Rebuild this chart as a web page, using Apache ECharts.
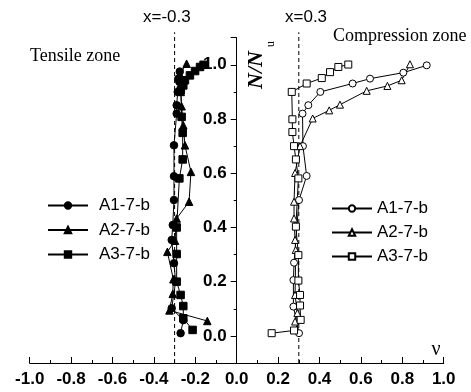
<!DOCTYPE html>
<html><head><meta charset="utf-8">
<script src="https://cdn.jsdelivr.net/npm/echarts@6/dist/echarts.min.js"></script>
<style>html,body{margin:0;padding:0;background:#fff}#c{width:471px;height:392px}</style>
</head><body><div id="c"></div>
<script>
// Tensile zone (filled markers)
const tensileA1 = [[-0.271,0.010],[-0.258,0.058],[-0.314,0.102],[-0.295,0.200],[-0.303,0.268],[-0.314,0.354],[-0.309,0.409],[-0.303,0.501],[-0.303,0.589],[-0.303,0.703],[-0.290,0.820],[-0.290,0.851],[-0.285,0.900],[-0.277,0.937],[-0.282,0.949],[-0.275,0.975]];
const tensileA2 = [[-0.142,0.055],[-0.325,0.094],[-0.309,0.155],[-0.306,0.209],[-0.335,0.310],[-0.298,0.351],[-0.290,0.433],[-0.230,0.495],[-0.221,0.605],[-0.250,0.703],[-0.258,0.777],[-0.266,0.847],[-0.270,0.900],[-0.274,0.965],[-0.242,1.004]];
const tensileA3 = [[-0.213,0.022],[-0.258,0.065],[-0.258,0.110],[-0.271,0.151],[-0.290,0.200],[-0.290,0.302],[-0.290,0.400],[-0.277,0.581],[-0.261,0.651],[-0.261,0.749],[-0.266,0.808],[-0.270,0.906],[-0.258,0.924],[-0.250,0.943],[-0.226,0.961],[-0.201,0.977],[-0.177,0.992],[-0.160,1.000]];
// Compression zone (hollow markers)
const compA1 = [[0.301,0.010],[0.274,0.108],[0.274,0.206],[0.277,0.270],[0.301,0.501],[0.338,0.590],[0.320,0.700],[0.318,0.820],[0.346,0.851],[0.404,0.900],[0.560,0.931],[0.644,0.949],[0.805,0.971],[0.918,0.998]];
const compA2 = [[0.282,0.053],[0.293,0.084],[0.282,0.151],[0.285,0.317],[0.282,0.354],[0.277,0.433],[0.277,0.495],[0.282,0.601],[0.306,0.700],[0.367,0.802],[0.447,0.832],[0.499,0.853],[0.628,0.904],[0.728,0.922],[0.797,0.943],[0.837,1.002]];
const compA3 = [[0.169,0.010],[0.277,0.020],[0.309,0.059],[0.306,0.112],[0.306,0.151],[0.298,0.204],[0.298,0.298],[0.286,0.403],[0.298,0.581],[0.286,0.651],[0.277,0.700],[0.269,0.752],[0.269,0.799],[0.266,0.900],[0.338,0.931],[0.411,0.951],[0.451,0.973],[0.491,0.992],[0.539,1.001]];
// reference lines x = -0.3 and x = 0.3
const refLeft = [[-0.3,-0.1],[-0.3,1.12]];
const refRight = [[0.3,-0.1],[0.3,1.12]];
const seriesNames = ['A1-7-b','A2-7-b','A3-7-b'];

const chart = echarts.init(document.getElementById('c'), null, {renderer:'canvas'});
const lineStyle = {color:'#000', width:1};
function filled(name, data, sym){
  return {type:'line', name:name, data:data, symbol:sym, symbolSize:7.5,
    itemStyle:{color:'#000', borderColor:'#000', borderWidth:1}, lineStyle:lineStyle};
}
function hollow(name, data, sym){
  return {type:'line', name:name + ' ', data:data, symbol:sym, symbolSize:7,
    itemStyle:{color:'#fff', borderColor:'#000', borderWidth:1}, lineStyle:lineStyle};
}
function dashed(data){
  return {type:'line', data:data, symbol:'none', clip:false, silent:true,
    lineStyle:{color:'#000', width:1, type:[4,3]}};
}
const gridLeft = 29.7, gridRight = 27.3;
const plotW = 471 - gridLeft - gridRight;
const option = {
  animation:false,
  backgroundColor:'#fff',
  grid:{left:gridLeft, right:gridRight, top:37.7, bottom:29},
  xAxis:{type:'value', min:-1, max:1, interval:0.2,
    axisLine:{onZero:false, lineStyle:{color:'#000', width:1}},
    axisTick:{inside:true, length:6, lineStyle:{color:'#000'}},
    minorTick:{show:true, splitNumber:2, length:3, lineStyle:{color:'#000'}},
    splitLine:{show:false},
    axisLabel:{color:'#000', fontFamily:'Liberation Sans, Arial', fontWeight:'bold', fontSize:17, margin:8,
      formatter:v=>v.toFixed(1)}
  },
  yAxis:{type:'value', min:-0.1, max:1.1, splitNumber:6, position:'left', offset:-plotW/2,
    axisLine:{onZero:false, lineStyle:{color:'#000', width:1}},
    axisTick:{length:6, lineStyle:{color:'#000'}},
    minorTick:{show:true, splitNumber:2, length:3, lineStyle:{color:'#000'}},
    splitLine:{show:false},
    axisLabel:{color:'#000', fontFamily:'Liberation Sans, Arial', fontWeight:'bold', fontSize:17, margin:10,
      showMinLabel:false, showMaxLabel:false,
      formatter:v=>{const r=Math.round(v*10); return (r%2===0 && r>=0 && r<=10)? v.toFixed(1):'';}}
  },
  legend:[
    {data:seriesNames, orient:'vertical', left:42, top:192, itemWidth:40, itemHeight:8, itemGap:7.5,
      textStyle:{color:'#000', fontFamily:'Liberation Sans', fontSize:17, padding:[0,0,0,6]}},
    {data:seriesNames.map(n=>n+' '), orient:'vertical', left:326, top:195, itemWidth:40, itemHeight:8, itemGap:7,
      textStyle:{color:'#000', fontFamily:'Liberation Sans', fontSize:17}}
  ],
  series:[
    dashed(refLeft), dashed(refRight),
    filled(seriesNames[0], tensileA1, 'circle'),
    filled(seriesNames[1], tensileA2, 'triangle'),
    filled(seriesNames[2], tensileA3, 'rect'),
    hollow(seriesNames[0], compA1, 'circle'),
    hollow(seriesNames[1], compA2, 'triangle'),
    hollow(seriesNames[2], compA3, 'rect')
  ],
  graphic:[
    {type:'text', left:143, top:9, style:{text:'x=-0.3', font:'17px "Liberation Sans"', fill:'#000'}},
    {type:'text', left:285, top:9, style:{text:'x=0.3', font:'17px "Liberation Sans"', fill:'#000'}},
    {type:'text', left:30, top:47, style:{text:'Tensile zone', font:'18px "Liberation Serif"', fill:'#000'}},
    {type:'text', left:333, top:27, style:{text:'Compression zone', font:'18px "Liberation Serif"', fill:'#000'}},
    {type:'text', x:256, y:70, rotation:Math.PI/2, style:{text:'N/N', font:'italic bold 22px "Liberation Serif"', fill:'#000', align:'center', verticalAlign:'middle'}},
    {type:'text', x:271, y:44, rotation:Math.PI/2, style:{text:'u', font:'12px "Liberation Serif"', fill:'#000', align:'center', verticalAlign:'middle'}},
    {type:'text', x:436, y:350, style:{text:'ν', font:'20px "Liberation Serif"', fill:'#000', align:'center', verticalAlign:'middle'}}
  ]
};
chart.setOption(option);
</script></body></html>
